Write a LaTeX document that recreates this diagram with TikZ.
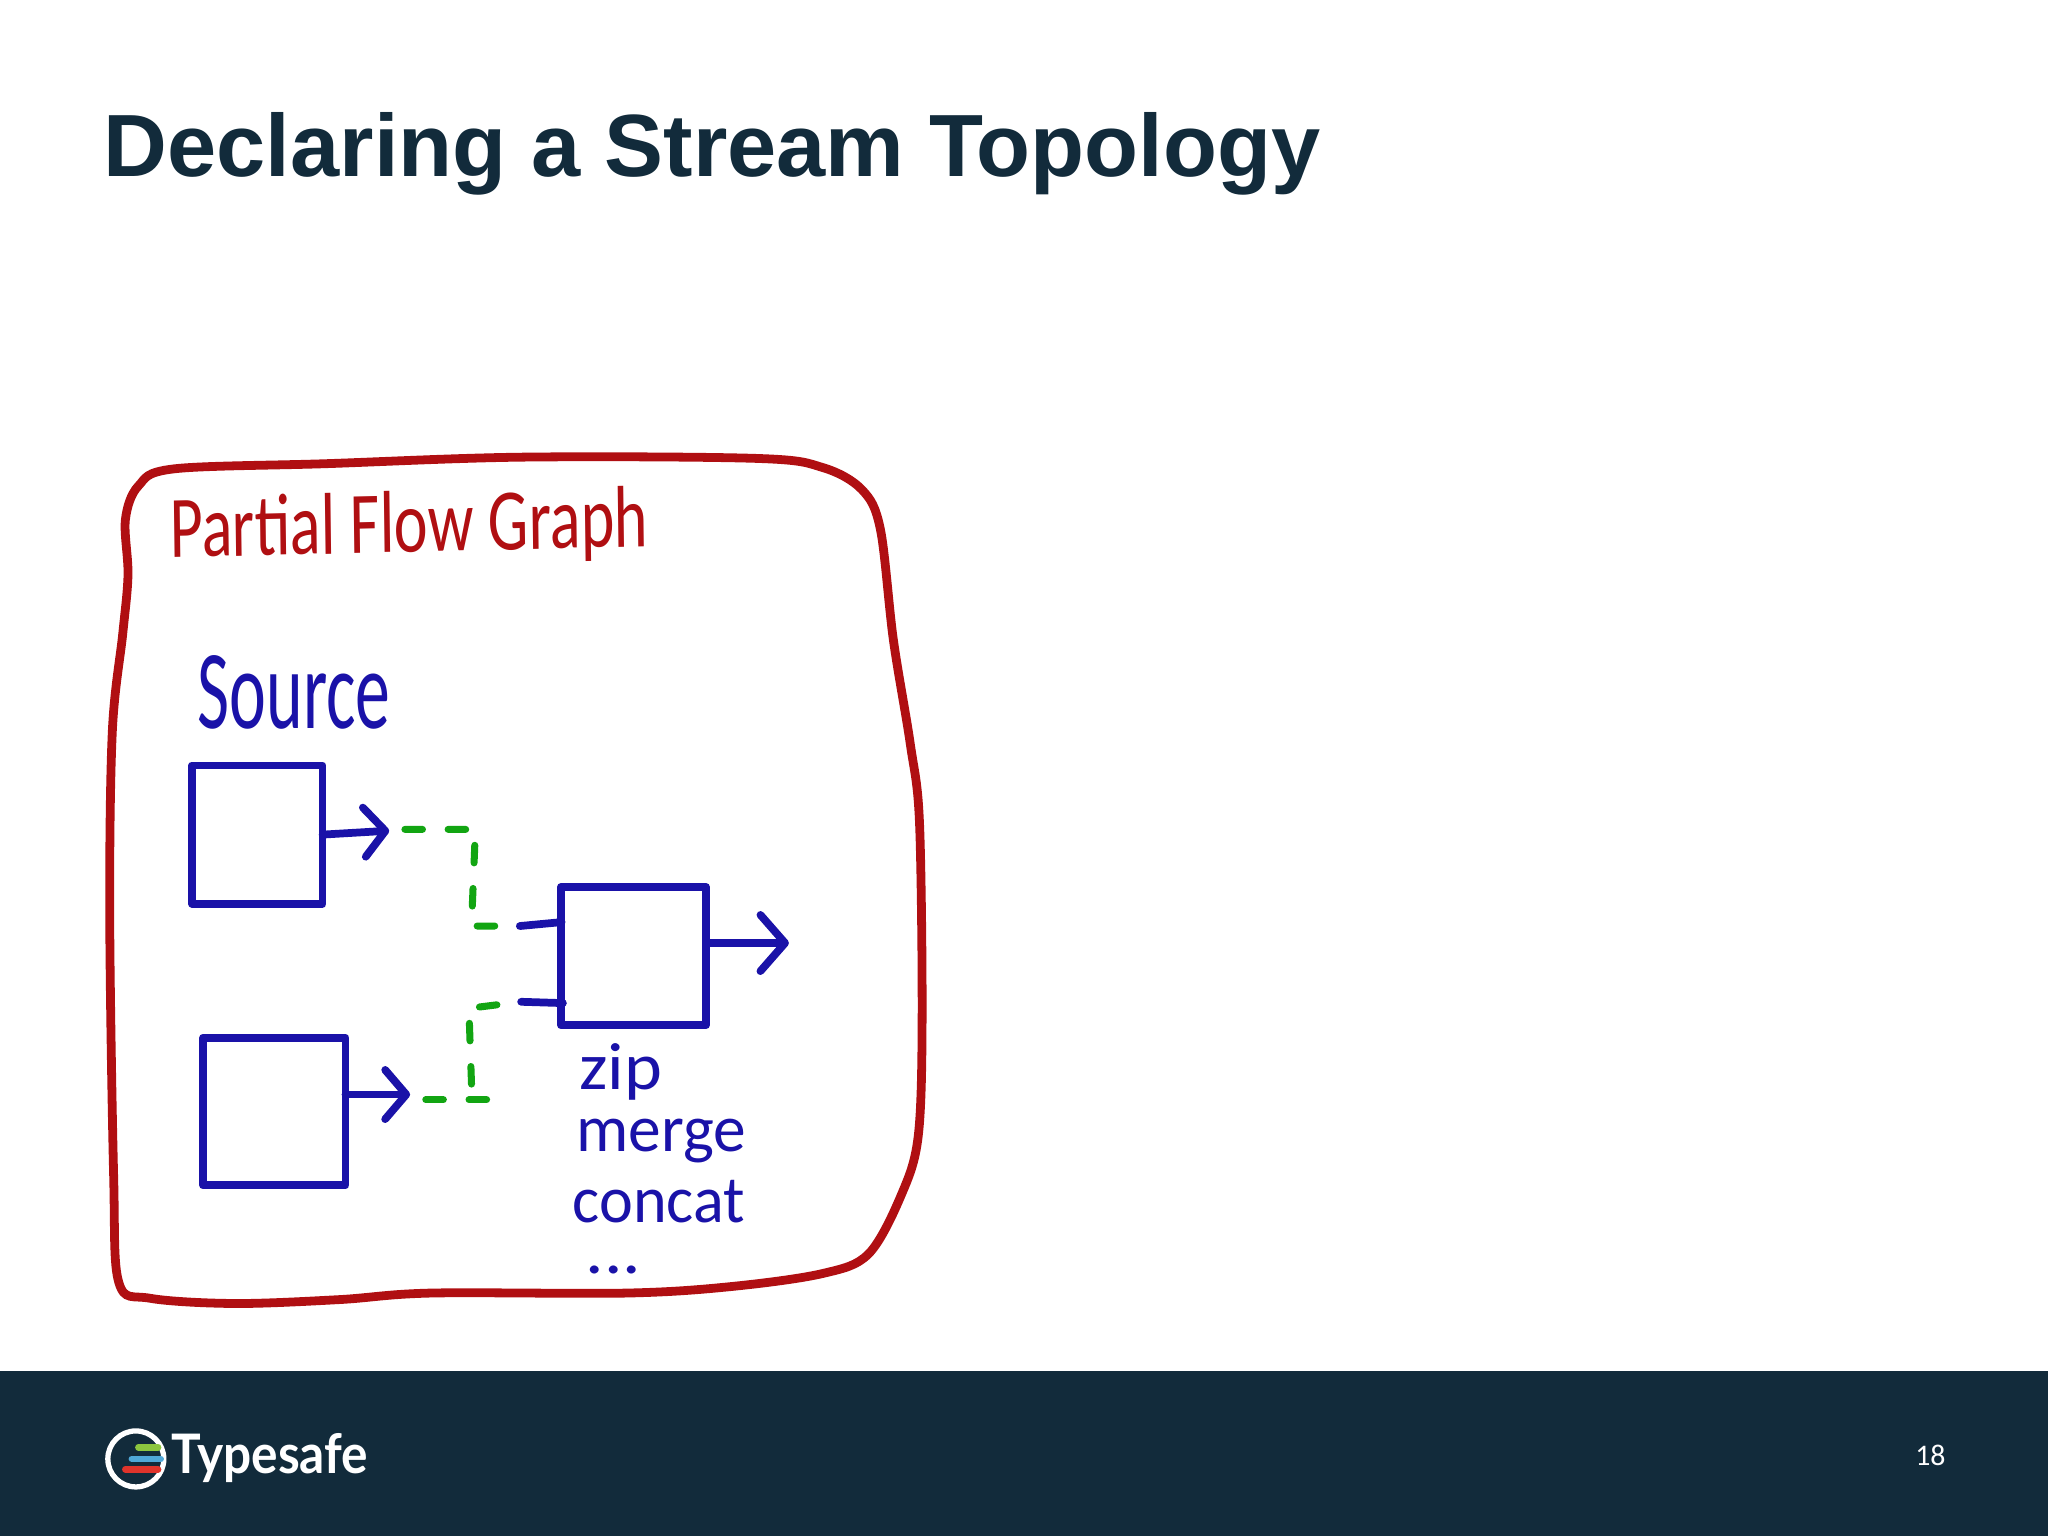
\documentclass[tikz,border=0pt]{standalone}
\usepackage{fontspec}
\setmainfont{Liberation Sans}
\newfontfamily\handfont{Carlito}
\newfontfamily\logofont{Lato}
\usetikzlibrary{arrows.meta,positioning}
\definecolor{slidenavy}{HTML}{122B3B}
\definecolor{penred}{HTML}{B00F12}
\definecolor{penblue}{HTML}{1A12A8}
\definecolor{pengreen}{HTML}{12A512}
\definecolor{logogreen}{HTML}{8CC63F}
\definecolor{logoblue}{HTML}{4FA8D8}
\definecolor{logored}{HTML}{E0342B}
\tikzset{penbox/.style={draw=penblue, line width=2.2pt, line join=round, inner sep=0pt, outer sep=0pt},
  penarrow/.style={draw=penblue, line width=2.2pt, line cap=round, -{Straight Barb[length=6pt,width=14pt,round]}},
  penstub/.style={draw=penblue, line width=2.2pt, line cap=round},
  pendash/.style={draw=pengreen, line width=2pt, line cap=round, dash pattern=on 5pt off 7.3pt},
  penlabel/.style={transform shape, inner sep=0pt, anchor=base west, text=penblue, font=\handfont\fontsize{19}{19}\selectfont},
  logobar/.style={line width=1.9pt, line cap=round}}

\begin{document}
\begin{tikzpicture}[x=0.0130612cm,y=-0.0130612cm]
   \useasboundingbox (0,0) rectangle (1568,1176);
   \fill[white] (0,0) rectangle (1568,1176);
   \node[anchor=base west, inner sep=0pt, text=slidenavy, font=\bfseries\fontsize{25.15}{25.15}\selectfont] (title) at (79,135) {Declaring a Stream Topology};
   % outer frame
   \draw[penred, line width=2.5pt] plot[smooth cycle, tension=0.55] coordinates {(96,398) (106,372) (133,359) (250,355) (400,350) (580,351) (630,358) (660,375) (674,405) (684,490) (697,570) (704,630) (706,780) (703,870) (690,915) (665,960) (630,975) (560,985) (480,990) (330,990) (260,995) (180,998) (115,994) (91,982) (87,900) (84,700) (86,560) (94,485) (98,440)};
   \node[penlabel, text=penred, font=\handfont\fontsize{25}{25}\selectfont, xscale=0.73, rotate=1] (graphname) at (130,427) {Partial Flow Graph};
   \node[penlabel, xscale=0.62, font=\handfont\fontsize{32}{32}\selectfont] (sourcename) at (151,558) {Source};
   % boxes
   \node[penbox, minimum width=1.306cm, minimum height=1.384cm] (sourceA) at (197,639) {};
   \node[penbox, minimum width=1.424cm, minimum height=1.476cm] (sourceB) at (210,851) {};
   \node[penbox, minimum width=1.45cm, minimum height=1.384cm] (joinbox) at (485,732) {};
   \node[penlabel, xscale=1.08] (zipname) at (443,834) {zip};
   \node[penlabel, xscale=0.98] (mergename) at (441,882) {merge};
   \node[penlabel, xscale=0.96] (concatname) at (438,936) {concat};
   \node[penlabel, xscale=1.1] (morename) at (448,975) {...};
   % connectors
   \coordinate (tipA) at (298,636);
   \coordinate (tipB) at (314,838);
   \coordinate (tipC) at (604,722);
   \coordinate (dashA) at (310,635);
   \coordinate (bendA) at (364,635);
   \coordinate (elbowA) at (361,709);
   \coordinate (stubA) at (398,709);
   \coordinate (inA) at (430,706);
   \coordinate (dashB) at (326,842);
   \coordinate (endB) at (373,842);
   \coordinate (riseB) at (361,830);
   \coordinate (bendB) at (359,772);
   \coordinate (stubB) at (399,767);
   \coordinate (inB) at (431,768);
   \draw[penarrow] (sourceA.east) -- (tipA);
   \draw[penarrow] (sourceB.east |- tipB) -- (tipB);
   \draw[penarrow, -{Straight Barb[length=7pt,width=16pt,round]}] (joinbox.east |- tipC) -- (tipC);
   \draw[pendash] (dashA) -- (bendA) -- (elbowA) -- (stubA);
   \draw[pendash] (dashB) -- (endB);
   \draw[pendash] (riseB) -- (bendB) -- (stubB);
   \draw[penstub] (stubA) -- (inA);
   \draw[penstub] (stubB) -- (inB);
   % footer
   \fill[slidenavy] (0,1050) rectangle (1568,1176);
   \node[white, circle, draw, line width=1.5pt, minimum size=0.56cm, inner sep=0pt] (logoring) at (104,1117) {};
   \draw[logobar, logogreen] (106,1108) -- (121,1108);
   \draw[logobar, logoblue] (101,1117) -- (123,1117);
   \draw[logobar, logored] (96,1125) -- (121,1125);
   \node[transform shape, xscale=0.91, anchor=base west, inner sep=0pt, white, font=\logofont\bfseries\fontsize{15.5}{15.5}\selectfont] (logoname) at (131,1128) {Typesafe};
   \node[white, inner sep=0pt, font=\handfont\fontsize{8.5}{8.5}\selectfont] (pagenum) at (1478,1114) {18};
  \end{tikzpicture}
\end{document}
